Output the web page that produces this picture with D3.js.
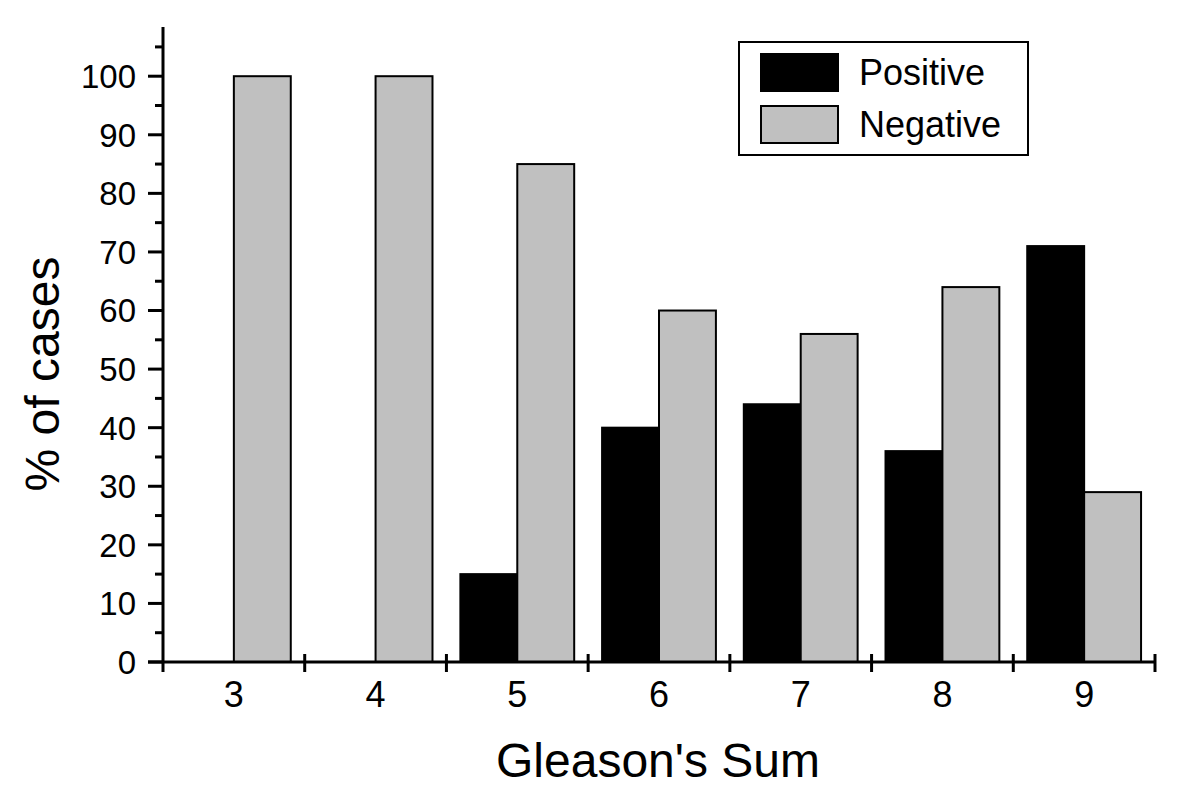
<!DOCTYPE html>
<html><head><meta charset="utf-8">
<script src="https://cdn.jsdelivr.net/npm/d3@7"></script>
<style>body{margin:0;background:#fff}svg{display:block}text{font-family:"Liberation Sans",Arial,sans-serif}</style>
</head><body>
<script>
const categories = ["3","4","5","6","7","8","9"];
const positive = [0,0,15,40,44,36,71];
const negative = [100,100,85,60,56,64,29];
const seriesNames = ["Positive","Negative"];
const seriesColors = ["#000000","#c0c0c0"];
const yTicks = [0,10,20,30,40,50,60,70,80,90,100];

const W=1200,H=800;
const m={left:163,right:45,top:27,bottom:138};
const svg=d3.select("body").append("svg").attr("width",W).attr("height",H);
const x=d3.scaleBand().domain(categories).range([m.left,W-m.right]).paddingInner(0).paddingOuter(0);
const y=d3.scaleLinear().domain([0,108.4]).range([H-m.bottom,m.top]);
const inner=d3.scaleBand().domain(seriesNames).range([0,x.bandwidth()]).paddingInner(0).paddingOuter(0.245);

const data=categories.map((c,i)=>({c,vals:[positive[i],negative[i]]}));
const g=svg.append("g");
data.forEach(d=>{
  d.vals.forEach((v,j)=>{
    if(v<=0) return;
    g.append("rect").attr("x",x(d.c)+inner(seriesNames[j])).attr("width",inner.bandwidth())
      .attr("y",y(v)).attr("height",y(0)-y(v))
      .attr("fill",seriesColors[j]).attr("stroke","#000").attr("stroke-width",2);
  });
});

// y axis
const yAx=svg.append("g").attr("transform",`translate(${m.left},0)`);
yAx.append("line").attr("x1",0).attr("x2",0).attr("y1",y(0)+10).attr("y2",m.top).attr("stroke","#000").attr("stroke-width",3);
const minor=d3.range(5,110,10);
yAx.selectAll(".mn").data(minor).join("line").attr("x1",-8).attr("x2",0).attr("y1",d=>y(d)).attr("y2",d=>y(d)).attr("stroke","#000").attr("stroke-width",3);
yAx.selectAll(".mj").data(yTicks).join("line").attr("x1",-15).attr("x2",0).attr("y1",d=>y(d)).attr("y2",d=>y(d)).attr("stroke","#000").attr("stroke-width",3);
yAx.selectAll(".lb").data(yTicks).join("text").attr("x",-27).attr("y",d=>y(d)).attr("dy","0.36em")
  .attr("text-anchor","end").attr("font-size",33).text(d=>d);

// x axis
const xAx=svg.append("g").attr("transform",`translate(0,${y(0)})`);
xAx.append("line").attr("x1",m.left-15).attr("x2",W-m.right+1).attr("y1",0).attr("y2",0).attr("stroke","#000").attr("stroke-width",3);
const bounds=categories.slice(1).map(c=>x(c)).concat([x(categories[categories.length-1])+x.bandwidth()]);
xAx.selectAll(".bt").data(bounds).join("line").attr("x1",d=>d).attr("x2",d=>d).attr("y1",-8).attr("y2",10).attr("stroke","#000").attr("stroke-width",3);
xAx.selectAll(".xl").data(categories).join("text").attr("x",d=>x(d)+x.bandwidth()/2).attr("y",45)
  .attr("text-anchor","middle").attr("font-size",36).text(d=>d);

svg.append("text").attr("x",658).attr("y",777).attr("text-anchor","middle").attr("font-size",48).text("Gleason's Sum");
svg.append("text").attr("transform","translate(59,374) rotate(-90)").attr("text-anchor","middle").attr("font-size",48).text("% of cases");

// legend
const lg=svg.append("g");
lg.append("rect").attr("x",739).attr("y",42).attr("width",289).attr("height",113).attr("fill","#fff").attr("stroke","#000").attr("stroke-width",2);
seriesNames.forEach((s,i)=>{
  lg.append("rect").attr("x",761).attr("y",54+i*52).attr("width",77).attr("height",37).attr("fill",seriesColors[i]).attr("stroke","#000").attr("stroke-width",2);
  lg.append("text").attr("x",859).attr("y",85+i*52).attr("font-size",36).text(s);
});
</script>
</body></html>
